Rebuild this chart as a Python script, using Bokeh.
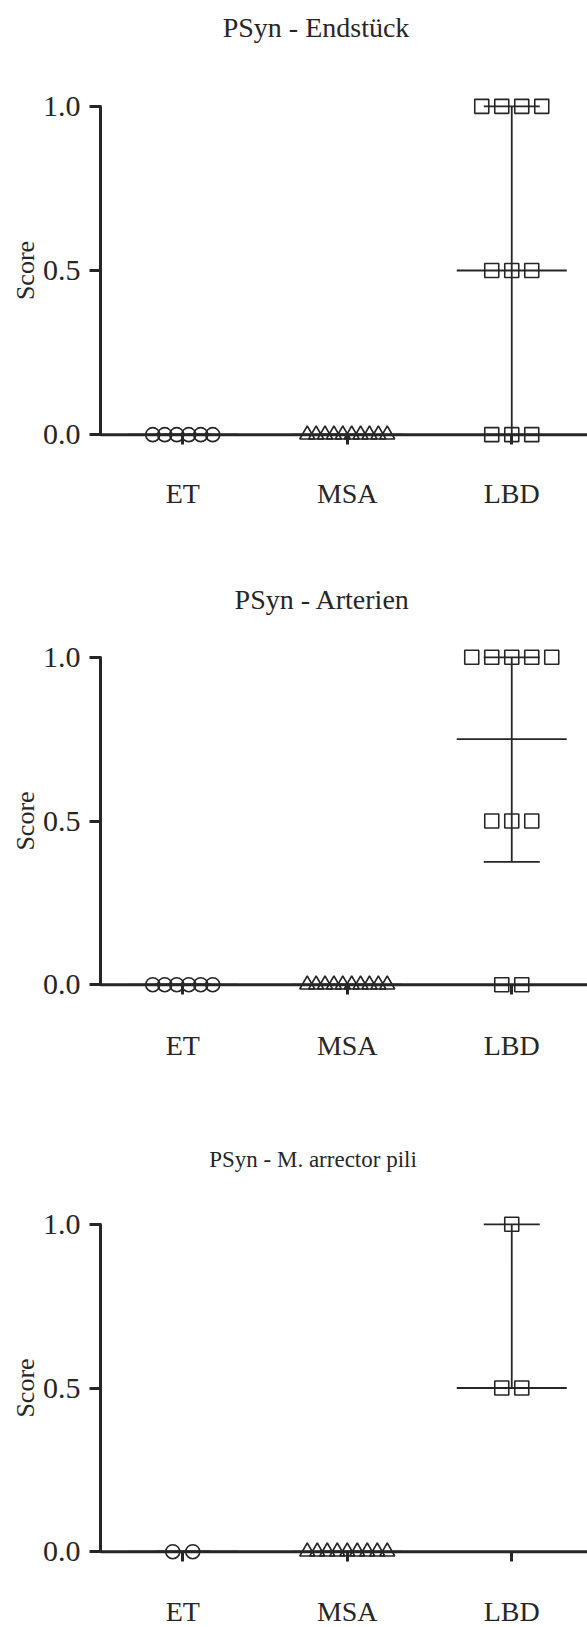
import numpy as np
from bokeh.plotting import figure
from bokeh.layouts import column
from bokeh.models import FixedTicker, Range1d, PrintfTickFormatter
from bokeh.core.properties import value
from bokeh.embed import file_html
from bokeh.resources import INLINE

# ---------------- data ----------------
categories = ["ET", "MSA", "LBD"]
y_ticks = [0.0, 0.5, 1.0]
titles = ["PSyn - Endstück", "PSyn - Arterien", "PSyn - M. arrector pili"]

# Panel 1: PSyn - Endstück
et_1 = [0, 0, 0, 0, 0, 0]
msa_1 = [0, 0, 0, 0, 0, 0, 0, 0, 0, 0]
lbd_1 = [1, 1, 1, 1, 0.5, 0.5, 0.5, 0, 0, 0]
median_1 = [0, 0, 0.5]
q1_1 = [0, 0, 0]
q3_1 = [0, 0, 1]

# Panel 2: PSyn - Arterien
et_2 = [0, 0, 0, 0, 0, 0]
msa_2 = [0, 0, 0, 0, 0, 0, 0, 0, 0, 0]
lbd_2 = [1, 1, 1, 1, 1, 0.5, 0.5, 0.5, 0, 0]
median_2 = [0, 0, 0.75]
q1_2 = [0, 0, 0.375]
q3_2 = [0, 0, 1]

# Panel 3: PSyn - M. arrector pili
et_3 = [0, 0]
msa_3 = [0, 0, 0, 0, 0, 0, 0, 0, 0]
lbd_3 = [1, 0.5, 0.5]
median_3 = [0, 0, 0.5]
q1_3 = [0, 0, 0.5]
q3_3 = [0, 0, 1]

# ---------------- style ----------------
INK = "#262626"
FONT = "Liberation Serif"
MARKERS = ["circle", "triangle", "square"]
MARKER_SIZE = [14, 15, 14]
SPREAD_PX = [60, 80, 80]
MAX_STEP_PX = 20
WIN_W = 587
LEFT = 98
XPX = 164.5
FW = WIN_W - LEFT
X0 = 0.5 - 2.0 / XPX
X1 = X0 + FW / XPX


def spread(values, width_px, px_per_unit):
    values = np.asarray(values, float)
    offs = np.zeros(len(values))
    for v in np.unique(values):
        idx = np.where(values == v)[0]
        n = len(idx)
        if n > 1:
            step = min(MAX_STEP_PX, width_px / (n - 1))
            offs[idx] = (np.arange(n) - (n - 1) / 2) * step / px_per_unit
    return offs


def make_header(title, height, cx_px, baseline, size):
    h = figure(frame_width=FW, frame_height=height,
               x_range=Range1d(X0, X1), y_range=Range1d(height, 0),
               x_axis_type=None, y_axis_type=None,
               min_border_left=LEFT, min_border_right=0,
               min_border_top=0, min_border_bottom=0,
               toolbar_location=None, output_backend="svg",
               outline_line_color=None, background_fill_color="white",
               border_fill_color="white")
    h.grid.visible = False
    tx = X0 + (cx_px - LEFT) / XPX
    h.text(x=[tx], y=[baseline], text=[title], text_align="center",
           text_baseline="alphabetic", text_font=value(FONT),
           text_font_size=value(size), text_color=INK)
    return h


def make_panel(groups, med, q1, q3, top, fh, bottom, xlab_standoff):
    ypx = fh / 1.06
    p = figure(frame_width=FW, frame_height=fh,
               min_border_left=LEFT, min_border_right=0,
               min_border_top=top, min_border_bottom=bottom,
               x_range=Range1d(X0, X1), y_range=Range1d(-0.03, 1.03),
               toolbar_location=None, output_backend="svg",
               outline_line_color=None, background_fill_color="white",
               border_fill_color="white")
    p.grid.visible = False

    # axis lines (Prism style)
    p.segment(x0=[0.5, 0.5], y0=[0, 0], x1=[0.5, X1], y1=[1.0, 0],
              line_color=INK, line_width=3)

    # median with interquartile range
    pos = np.arange(1, len(categories) + 1, dtype=float)
    med = np.asarray(med, float)
    q1 = np.asarray(q1, float)
    q3 = np.asarray(q3, float)
    med_half = 55.0 / XPX
    cap_half = 28.0 / XPX
    lw = 1.8
    p.segment(x0=pos - med_half, y0=med, x1=pos + med_half, y1=med,
              line_color=INK, line_width=lw)
    p.segment(x0=pos, y0=q1, x1=pos, y1=q3, line_color=INK, line_width=lw)
    p.segment(x0=pos - cap_half, y0=q1, x1=pos + cap_half, y1=q1,
              line_color=INK, line_width=lw)
    p.segment(x0=pos - cap_half, y0=q3, x1=pos + cap_half, y1=q3,
              line_color=INK, line_width=lw)

    # points
    for i, vals in enumerate(groups):
        xs = (i + 1) + spread(vals, SPREAD_PX[i], XPX)
        p.scatter(xs, vals, marker=MARKERS[i], size=MARKER_SIZE[i],
                  fill_color=None, line_color=INK, line_width=1.6)

    # x axis (ticks and labels only)
    xa = p.xaxis[0]
    xa.ticker = FixedTicker(ticks=[1, 2, 3])
    xa.major_label_overrides = {i + 1: c for i, c in enumerate(categories)}
    xa.axis_line_color = None
    xa.major_tick_in = int(round(0.03 * ypx))
    xa.major_tick_out = 0
    xa.major_tick_line_width = 3
    xa.major_tick_line_color = INK
    xa.minor_tick_line_color = None
    xa.major_label_standoff = xlab_standoff
    xa.major_label_text_font = FONT
    xa.major_label_text_font_size = "28px"
    xa.major_label_text_color = INK

    # y axis
    ya = p.yaxis[0]
    ya.ticker = FixedTicker(ticks=y_ticks)
    ya.formatter = PrintfTickFormatter(format="%.1f")
    ya.axis_line_color = None
    ya.major_tick_in = 3
    ya.major_tick_out = 9
    ya.major_tick_line_width = 3
    ya.major_tick_line_color = INK
    ya.minor_tick_line_color = None
    ya.major_label_standoff = 9
    ya.major_label_text_font = FONT
    ya.major_label_text_font_size = "30px"
    ya.major_label_text_color = INK
    ya.axis_label = "Score"
    ya.axis_label_standoff = 0
    ya.axis_label_text_font = FONT
    ya.axis_label_text_font_size = "26px"
    ya.axis_label_text_font_style = "normal"
    ya.axis_label_text_color = INK
    return p


h1 = make_header(titles[0], 70, 315.5, 27, "28px")
p1 = make_panel([et_1, msa_1, lbd_1], median_1, q1_1, q3_1,
                top=26, fh=348, bottom=86, xlab_standoff=33)
h2 = make_header(titles[1], 95, 322, 69, "28px")
p2 = make_panel([et_2, msa_2, lbd_2], median_2, q1_2, q3_2,
                top=22, fh=347, bottom=96, xlab_standoff=35)
h3 = make_header(titles[2], 100, 312.5, 69, "23px")
p3 = make_panel([et_3, msa_3, lbd_3], median_3, q1_3, q3_3,
                top=24, fh=347, bottom=66, xlab_standoff=34)

layout = column(h1, p1, h2, p2, h3, p3, spacing=0)
open("out.html", "w").write(file_html(layout, INLINE))
